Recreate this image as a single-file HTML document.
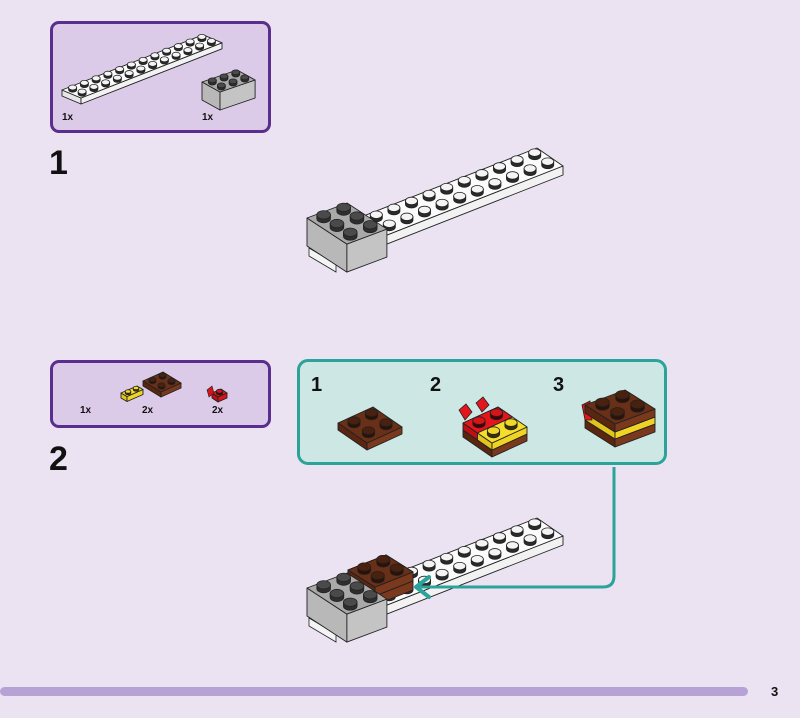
<!DOCTYPE html>
<html><head><meta charset="utf-8"><style>
html,body{margin:0;padding:0;background:#ebe3f1;}
#wrap{position:relative;width:800px;height:718px;overflow:hidden;background:#ebe3f1;font-family:"Liberation Sans",sans-serif;}
.box{position:absolute;box-sizing:border-box;}
.t{position:absolute;font-weight:bold;color:#111;}
</style></head><body><div id="wrap">
<div class="box" style="left:50px;top:21px;width:221px;height:112px;background:#dccbe8;border:3px solid #5a2e8c;border-radius:9px;"></div>
<div class="box" style="left:50px;top:360px;width:221px;height:68px;background:#dccbe8;border:3px solid #5a2e8c;border-radius:9px;"></div>
<div class="box" style="left:297px;top:359px;width:370px;height:106px;background:#cde8e4;border:3px solid #2ba39b;border-radius:11px;"></div>
<div style="position:absolute;left:0;top:687px;width:748px;height:9px;background:#b6a2d4;border-radius:5px;"></div>
<svg id="s" width="800" height="718" style="position:absolute;left:0;top:0">
</svg>
<svg id="s2" width="800" height="718" style="position:absolute;left:0;top:0">
<path d="M614 467 V576 Q614 587 603 587 H418" fill="none" stroke="#2ba39b" stroke-width="3"/>
<path d="M429 577 L416 587 L429 597" fill="none" stroke="#2ba39b" stroke-width="4" stroke-linecap="round" stroke-linejoin="round"/>
</svg>
<div class="t" style="left:62px;top:112px;font-size:10px;">1x</div>
<div class="t" style="left:202px;top:112px;font-size:10px;">1x</div>
<div class="t" style="left:80px;top:405px;font-size:10px;">1x</div>
<div class="t" style="left:142px;top:405px;font-size:10px;">2x</div>
<div class="t" style="left:212px;top:405px;font-size:10px;">2x</div>
<div class="t" style="left:49px;top:144px;font-size:34px;">1</div>
<div class="t" style="left:49px;top:440px;font-size:34px;">2</div>
<div class="t" style="left:311px;top:374px;font-size:20px;">1</div>
<div class="t" style="left:430px;top:374px;font-size:20px;">2</div>
<div class="t" style="left:553px;top:374px;font-size:20px;">3</div>
<div class="t" style="left:771px;top:684px;font-size:13px;">3</div>
</div>
<script>
var s=document.getElementById('s');var NS='http://www.w3.org/2000/svg';
function el(t,a){var e=document.createElementNS(NS,t);for(var k in a)e.setAttribute(k,a[k]);s.appendChild(e);return e;}
function pts(a){return a.map(function(p){return p[0].toFixed(1)+','+p[1].toFixed(1)}).join(' ');}
function add(a,b,k){k=k||1;return [a[0]+b[0]*k,a[1]+b[1]*k];}
function box(L,u,v,nu,nv,h,c,studs){
 var P0=L,P1=add(L,u,nu),P2=add(P1,v,nv),P3=add(L,v,nv),H=[0,h];
 var sw=0.9;
 el('polygon',{points:pts([P0,P3,add(P3,H),add(P0,H)]),fill:c[1],stroke:'#222','stroke-width':sw,'stroke-linejoin':'round'});
 el('polygon',{points:pts([P3,P2,add(P2,H),add(P3,H)]),fill:c[2],stroke:'#222','stroke-width':sw,'stroke-linejoin':'round'});
 el('polygon',{points:pts([P0,P1,P2,P3]),fill:c[0],stroke:'#222','stroke-width':sw,'stroke-linejoin':'round'});
 if(studs===false)return;
 var ul=Math.sqrt(u[0]*u[0]+u[1]*u[1]);var rx=ul*0.32,ry=rx*0.62,sh=rx*0.55;
 var list=[];for(var i=0;i<nu;i++)for(var j=0;j<nv;j++){list.push(add(add(L,u,i+.5),v,j+.5));}
 list.sort(function(a,b){return a[1]-b[1]});
 list.forEach(function(p){
  el('path',{d:'M'+(p[0]-rx)+' '+(p[1]-sh)+' V'+p[1]+' A'+rx+' '+ry+' 0 0 0 '+(p[0]+rx)+' '+p[1]+' V'+(p[1]-sh)+' Z',fill:c[3],stroke:'#222','stroke-width':0.8});
  el('ellipse',{cx:p[0],cy:p[1]-sh,rx:rx,ry:ry,fill:c[4],stroke:'#222','stroke-width':0.8});
 });
}
var W=['#fbfbfb','#e6e6e6','#f2f2f2','#2a2a2a','#f4f4f4'];
var G=['#a9a9a9','#b8b8b8','#c4c4c4','#2e2e2e','#4a4a4a'];
var B=['#6a2f17','#5a2610','#7a391c','#2a1208','#4a200e'];
var Y=['#f6dc2c','#e2c41c','#f0d424','#3a3000','#f2d628'];
var R=['#e3161b','#c00e12','#d81418','#4a0000','#d81418'];
function model(dy,cake){
 var u=[20,-7.5],v=[13.3,8.7];
 var up=[17.6,-6.9],vp=[13,9];
 var A=add([537,148+dy],up,-12);
 box(A,up,vp,12,2,9,W,true);
 el('polygon',{points:pts([[309,248+dy],[336,264+dy],[336,272+dy],[309,256+dy]]),fill:'#f4f4f4',stroke:'#222','stroke-width':0.8});
 if(cake){
  box([348,579+0],[19,-7.5],[13.5,8.5],2,2,9,B,false);
  box([348,570],[19,-7.5],[13.5,8.5],2,2,7,Y,false);
  el('ellipse',{cx:355,cy:572,rx:3,ry:2,fill:'#d11'});el('ellipse',{cx:368,cy:566,rx:3,ry:2,fill:'#d11'});el('ellipse',{cx:383,cy:560,rx:3,ry:2,fill:'#d11'});
  box([348,570],[19,-7.5],[13.5,8.5],2,2,0.1,B,true);
  box([348,570],[19,-7.5],[13.5,8.5],2,2,9,B,false);
  box([348,570],[19,-7.5],[13.5,8.5],2,2,0.01,B,true);
 }
 box([307,218+dy],u,v,2,3,28,G,true);
}
model(0,false);
model(370,true);
box([62,90],[11.75,-4.6],[9.5,4],12,2,6,W,true);
box([202,82],[11.7,-4],[9,5],3,2,18,G,true);
box([121,393],[8,-3.5],[6,3.5],2,1,5,Y,true);
box([143,381],[10,-4.5],[9,5.5],2,2,5,B,true);
box([212,393],[9,-4],[6,4],1,1,5,R,true);
el('polygon',{points:pts([[207,390],[212,386],[214,393],[209,397]]),fill:'#d81418',stroke:'#222','stroke-width':0.6});
box([338,423],[17.5,-8],[14.5,10],2,2,7,B,true);
box([463,430],[17.5,-8],[14.5,10],2,2,7,B,false);
box([463,423],[17.5,-8],[14.5,10],2,1,7,R,false);
el('polygon',{points:pts([[459,410],[466,404],[472,412],[465,420]]),fill:'#e3161b',stroke:'#222','stroke-width':0.8});
el('polygon',{points:pts([[476,403],[483,397],[489,405],[482,412]]),fill:'#e3161b',stroke:'#222','stroke-width':0.8});
box([463,423],[17.5,-8],[14.5,10],2,1,0.01,R,true);
box([477.5,433],[17.5,-8],[14.5,10],2,1,7,Y,true);
box([585,420],[20,-7.5],[15,9.5],2,2,8,B,false);
box([585,413],[20,-7.5],[15,9.5],2,2,7,Y,false);
el('polygon',{points:pts([[582,405],[590,401],[592,420],[585,420]]),fill:'#e3161b',stroke:'#222','stroke-width':0.8});
box([585,405],[20,-7.5],[15,9.5],2,2,8,B,true);
</script>
</body></html>
